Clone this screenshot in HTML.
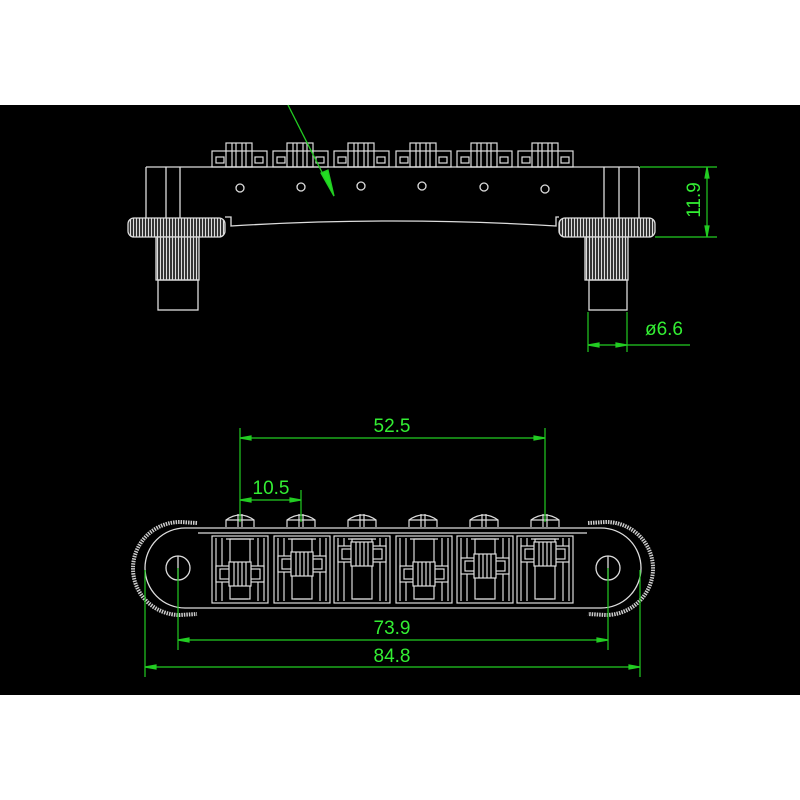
<!DOCTYPE html>
<html><head><meta charset="utf-8"><style>
html,body{margin:0;padding:0;background:#fff;}
svg{display:block}
text{font-family:"Liberation Sans",sans-serif;fill:#33ee33;font-size:19px;}
</style></head><body>
<svg width="800" height="800" viewBox="0 0 800 800">
<defs>
<g id="sad" fill="none" stroke="#ddd" stroke-width="1.2">
  <rect x="0" y="0" width="56" height="67"/>
  <line x1="4" y1="2" x2="4" y2="65"/><line x1="10" y1="2" x2="10" y2="65"/>
  <line x1="46" y1="2" x2="46" y2="65"/><line x1="52" y1="2" x2="52" y2="65"/>
  <rect x="18" y="3" width="20" height="60"/>
  <line x1="14" y1="3" x2="42" y2="3"/><line x1="20" y1="63" x2="36" y2="63"/>
</g>
<g id="tab" fill="#000" stroke="#ddd" stroke-width="1.2">
  <rect x="4" y="-7" width="48" height="16"/>
  <rect x="8" y="-4" width="40" height="10"/>
  <rect x="17" y="-11" width="22" height="24"/>
  <line x1="22" y1="-11" x2="22" y2="13"/><line x1="26" y1="-11" x2="26" y2="13"/>
  <line x1="30" y1="-11" x2="30" y2="13"/><line x1="34" y1="-11" x2="34" y2="13"/>
</g>
<g id="ts" fill="none" stroke="#ddd" stroke-width="1.2">
  <rect x="0" y="8" width="55" height="16"/>
  <rect x="14" y="0" width="26" height="24"/>
  <line x1="20" y1="0" x2="20" y2="24"/><line x1="24" y1="0" x2="24" y2="24"/>
  <line x1="30" y1="0" x2="30" y2="24"/><line x1="34" y1="0" x2="34" y2="24"/>
  <rect x="4" y="14" width="8" height="6"/><rect x="43" y="14" width="8" height="6"/>
</g>
<g id="scr" fill="#000" stroke="#ddd" stroke-width="1.2">
  <path d="M-14,11 L-14,4 Q0,-6 14,4 L14,11"/>
  <line x1="-14" y1="4" x2="14" y2="4"/>
  <line x1="-2" y1="-2" x2="-2" y2="11"/><line x1="2" y1="-2" x2="2" y2="11"/>
</g>
<pattern id="kn" width="3" height="10" patternUnits="userSpaceOnUse">
  <rect width="3" height="10" fill="#222"/><line x1="1.5" y1="0" x2="1.5" y2="10" stroke="#ddd" stroke-width="1.2"/>
</pattern>
</defs>
<rect x="0" y="105" width="800" height="590" fill="#000"/>

<!-- TOP VIEW -->
<g fill="none" stroke="#ddd" stroke-width="1.3">
  <use href="#ts" x="212" y="143"/><use href="#ts" x="273" y="143"/><use href="#ts" x="334" y="143"/>
  <use href="#ts" x="396" y="143"/><use href="#ts" x="457" y="143"/><use href="#ts" x="518" y="143"/>
  <line x1="146" y1="167" x2="639" y2="167"/>
  <line x1="146" y1="167" x2="146" y2="218"/><line x1="639" y1="167" x2="639" y2="218"/>
  <line x1="166" y1="167" x2="166" y2="218"/><line x1="180" y1="167" x2="180" y2="218"/>
  <line x1="604" y1="167" x2="604" y2="218"/><line x1="619" y1="167" x2="619" y2="218"/>
  <path d="M225,217 L231,217 L231,226 Q393,216 556,226 L556,217 L559,217"/>
  <circle cx="240" cy="188" r="4"/><circle cx="301" cy="187" r="4"/><circle cx="361" cy="186" r="4"/>
  <circle cx="422" cy="186" r="4"/><circle cx="484" cy="187" r="4"/><circle cx="545" cy="189" r="4"/>
  <rect x="128" y="218" width="97" height="19" rx="6" fill="url(#kn)"/>
  <rect x="559" y="218" width="96" height="19" rx="6" fill="url(#kn)"/>
  <rect x="156" y="237" width="43" height="43" fill="url(#kn)"/>
  <rect x="585" y="237" width="43" height="43" fill="url(#kn)"/>
  <rect x="158" y="280" width="40" height="30"/>
  <rect x="589" y="280" width="38" height="30"/>
</g>
<g stroke="#22cc22" fill="#22dd22" stroke-width="1.3">
  <line x1="288" y1="105" x2="334" y2="196"/>
  <polygon points="334,196 321,173 328,170"/>
</g>
<g stroke="#22cc22" stroke-width="1.2" fill="#22cc22">
  <line x1="640" y1="167" x2="717" y2="167"/><line x1="655" y1="237" x2="717" y2="237"/>
  <line x1="707" y1="167" x2="707" y2="237"/>
  <polygon points="707,167 705,178 709,178"/><polygon points="707,237 705,226 709,226"/>
  <line x1="588" y1="312" x2="588" y2="352"/><line x1="627" y1="312" x2="627" y2="352"/>
  <line x1="588" y1="345" x2="690" y2="345"/>
  <polygon points="588,345 599,343 599,347"/><polygon points="627,345 616,343 616,347"/>
</g>
<text transform="translate(700,200) rotate(-90)" text-anchor="middle">11.9</text>
<text x="664" y="335" text-anchor="middle">ø6.6</text>

<!-- BOTTOM VIEW -->
<g fill="none" stroke="#ccc">
  <path d="M197,523 L180,522 A47,46.5 0 0 0 180,615 L197,614" stroke-width="4" stroke-dasharray="1.5 1"/>
  <path d="M588,523 L606,522 A47,46.5 0 0 1 606,615 L588,614" stroke-width="4" stroke-dasharray="1.5 1"/>
</g>
<g fill="none" stroke="#ddd" stroke-width="1.3">
  <rect x="145" y="528" width="496" height="80" rx="40" fill="#000"/>
  <line x1="198" y1="533" x2="587" y2="533"/>
  <circle cx="178" cy="568" r="12"/><line x1="178" y1="556" x2="178" y2="580"/>
  <circle cx="608" cy="568" r="12"/><line x1="608" y1="556" x2="608" y2="580"/>
</g>
<use href="#scr" x="240" y="516"/><use href="#scr" x="301" y="516"/><use href="#scr" x="362" y="516"/>
<use href="#scr" x="423" y="516"/><use href="#scr" x="484" y="516"/><use href="#scr" x="545" y="516"/>
<use href="#sad" x="212" y="536"/><use href="#tab" x="212" y="573"/>
<use href="#sad" x="274" y="536"/><use href="#tab" x="274" y="563"/>
<use href="#sad" x="334" y="536"/><use href="#tab" x="334" y="553"/>
<use href="#sad" x="396" y="536"/><use href="#tab" x="396" y="573"/>
<use href="#sad" x="457" y="536"/><use href="#tab" x="457" y="565"/>
<use href="#sad" x="517" y="536"/><use href="#tab" x="517" y="553"/>

<g stroke="#22cc22" stroke-width="1.2" fill="#22cc22">
  <line x1="240" y1="428" x2="240" y2="522"/><line x1="545" y1="428" x2="545" y2="522"/>
  <line x1="240" y1="438" x2="545" y2="438"/>
  <polygon points="240,438 251,436 251,440"/><polygon points="545,438 534,436 534,440"/>
  <line x1="301" y1="490" x2="301" y2="522"/>
  <line x1="240" y1="500" x2="301" y2="500"/>
  <polygon points="240,500 251,498 251,502"/><polygon points="301,500 290,498 290,502"/>
  <line x1="178" y1="568" x2="178" y2="650"/><line x1="608" y1="568" x2="608" y2="650"/>
  <line x1="178" y1="640" x2="608" y2="640"/>
  <polygon points="178,640 189,638 189,642"/><polygon points="608,640 597,638 597,642"/>
  <line x1="145" y1="570" x2="145" y2="677"/><line x1="640" y1="570" x2="640" y2="677"/>
  <line x1="145" y1="667" x2="640" y2="667"/>
  <polygon points="145,667 156,665 156,669"/><polygon points="640,667 629,665 629,669"/>
</g>
<text x="392" y="432" text-anchor="middle">52.5</text>
<text x="271" y="494" text-anchor="middle">10.5</text>
<text x="392" y="634" text-anchor="middle">73.9</text>
<text x="392" y="662" text-anchor="middle">84.8</text>
</svg>
</body></html>
